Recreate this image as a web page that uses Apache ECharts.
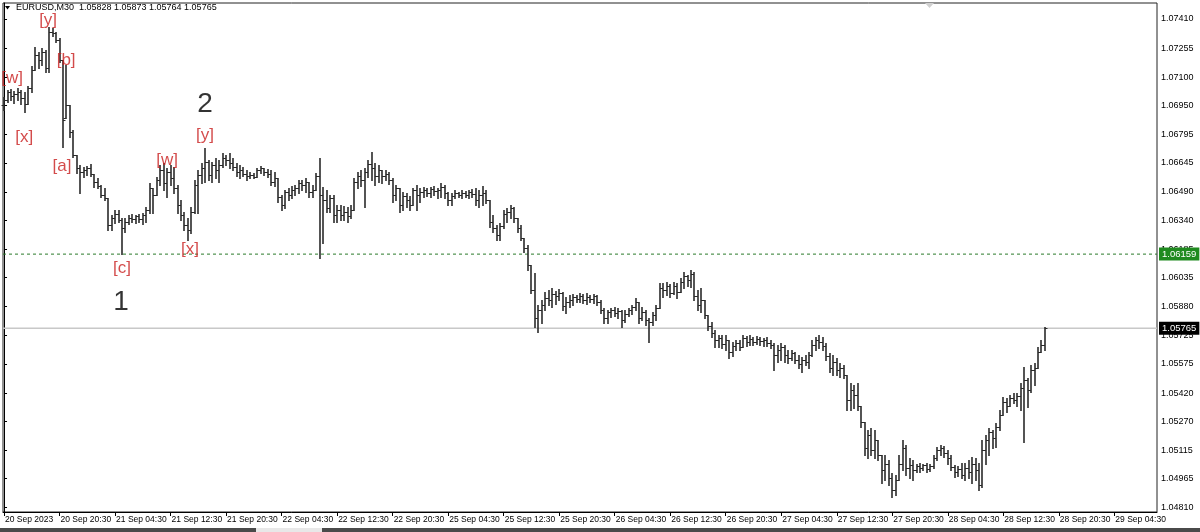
<!DOCTYPE html>
<html>
<head>
<meta charset="utf-8">
<script src="https://cdn.jsdelivr.net/npm/echarts@6/dist/echarts.min.js"></script>
<style>html,body{margin:0;padding:0;background:#fff}#c{width:1200px;height:532px}</style>
</head>
<body>
<div id="c"></div>
<script>
// ---- data (EURUSD M30) ----
const headerText = 'EURUSD,M30  1.05828 1.05873 1.05764 1.05765';
const timeTickLabels = ['20 Sep 2023','20 Sep 20:30','21 Sep 04:30','21 Sep 12:30','21 Sep 20:30','22 Sep 04:30','22 Sep 12:30','22 Sep 20:30','25 Sep 04:30','25 Sep 12:30','25 Sep 20:30','26 Sep 04:30','26 Sep 12:30','26 Sep 20:30','27 Sep 04:30','27 Sep 12:30','27 Sep 20:30','28 Sep 04:30','28 Sep 12:30','28 Sep 20:30','29 Sep 04:30'];
const barsPerTimeTick = 16;
const priceTickLabels = ['1.07410','1.07255','1.07100','1.06950','1.06795','1.06645','1.06490','1.06340','1.06185','1.06035','1.05880','1.05725','1.05575','1.05420','1.05270','1.05115','1.04965','1.04810'];
const supportLevel = 1.06159;
const bidLevel = 1.05765;
// [open, high, low, close]
const ohlc = [
[1.06952,1.06995,1.06926,1.06979],[1.06979,1.07032,1.06968,1.07021],[1.07021,1.07038,1.06979,1.07000],[1.07000,1.07027,1.06963,1.07011],
[1.07011,1.07043,1.06979,1.07021],[1.07021,1.07032,1.06958,1.06989],[1.06989,1.07021,1.06915,1.06958],[1.06958,1.07054,1.06958,1.07043],
[1.07043,1.07160,1.07021,1.07139],[1.07139,1.07261,1.07139,1.07218],[1.07218,1.07234,1.07149,1.07192],[1.07192,1.07255,1.07165,1.07234],
[1.07234,1.07245,1.07128,1.07149],[1.07149,1.07368,1.07128,1.07340],[1.07340,1.07362,1.07319,1.07335],[1.07335,1.07340,1.07287,1.07298],
[1.07298,1.07308,1.07181,1.07192],[1.07192,1.07192,1.06730,1.06873],[1.06883,1.07165,1.06883,1.06952],[1.06952,1.06952,1.06783,1.06809],
[1.06809,1.06820,1.06676,1.06686],[1.06686,1.06686,1.06591,1.06617],[1.06617,1.06633,1.06485,1.06596],[1.06596,1.06623,1.06570,1.06607],
[1.06607,1.06628,1.06580,1.06617],[1.06617,1.06639,1.06575,1.06586],[1.06586,1.06586,1.06517,1.06543],[1.06543,1.06564,1.06511,1.06522],
[1.06522,1.06527,1.06464,1.06474],[1.06474,1.06511,1.06448,1.06458],[1.06458,1.06458,1.06288,1.06314],[1.06314,1.06368,1.06288,1.06352],
[1.06352,1.06395,1.06325,1.06374],[1.06374,1.06395,1.06330,1.06341],[1.06341,1.06352,1.06159,1.06298],[1.06298,1.06352,1.06277,1.06330],
[1.06330,1.06368,1.06320,1.06352],[1.06352,1.06374,1.06330,1.06347],[1.06347,1.06368,1.06325,1.06363],[1.06363,1.06374,1.06330,1.06347],
[1.06347,1.06379,1.06320,1.06368],[1.06368,1.06411,1.06330,1.06395],[1.06395,1.06538,1.06379,1.06511],[1.06511,1.06511,1.06379,1.06474],
[1.06474,1.06570,1.06474,1.06554],[1.06554,1.06633,1.06527,1.06607],[1.06607,1.06644,1.06501,1.06538],[1.06538,1.06617,1.06464,1.06596],
[1.06596,1.06633,1.06527,1.06564],[1.06564,1.06623,1.06485,1.06511],[1.06511,1.06527,1.06379,1.06421],[1.06421,1.06448,1.06341,1.06368],
[1.06368,1.06384,1.06288,1.06314],[1.06314,1.06352,1.06235,1.06288],[1.06288,1.06411,1.06272,1.06384],[1.06384,1.06554,1.06379,1.06527],
[1.06527,1.06607,1.06379,1.06580],[1.06580,1.06644,1.06538,1.06617],[1.06617,1.06724,1.06543,1.06649],[1.06649,1.06660,1.06554,1.06580],
[1.06580,1.06649,1.06543,1.06633],[1.06633,1.06670,1.06564,1.06607],[1.06607,1.06660,1.06543,1.06633],[1.06633,1.06697,1.06623,1.06670],
[1.06670,1.06686,1.06633,1.06660],[1.06660,1.06697,1.06617,1.06644],[1.06644,1.06670,1.06607,1.06623],[1.06623,1.06644,1.06575,1.06596],
[1.06596,1.06633,1.06564,1.06607],[1.06607,1.06623,1.06575,1.06586],[1.06586,1.06607,1.06554,1.06575],[1.06575,1.06596,1.06564,1.06580],
[1.06580,1.06591,1.06564,1.06570],[1.06570,1.06617,1.06570,1.06607],[1.06607,1.06628,1.06591,1.06617],[1.06617,1.06617,1.06580,1.06596],
[1.06596,1.06612,1.06570,1.06586],[1.06586,1.06607,1.06527,1.06543],[1.06543,1.06596,1.06522,1.06564],[1.06564,1.06564,1.06437,1.06464],
[1.06464,1.06474,1.06395,1.06421],[1.06421,1.06501,1.06405,1.06490],[1.06490,1.06511,1.06448,1.06474],[1.06474,1.06522,1.06458,1.06501],
[1.06501,1.06527,1.06474,1.06511],[1.06511,1.06554,1.06485,1.06538],[1.06538,1.06554,1.06501,1.06527],[1.06527,1.06564,1.06490,1.06543],
[1.06543,1.06543,1.06464,1.06490],[1.06490,1.06527,1.06464,1.06501],[1.06501,1.06591,1.06501,1.06575],[1.06575,1.06670,1.06139,1.06474],
[1.06474,1.06517,1.06219,1.06448],[1.06448,1.06501,1.06384,1.06405],[1.06405,1.06474,1.06384,1.06458],[1.06458,1.06474,1.06330,1.06368],
[1.06368,1.06421,1.06330,1.06395],[1.06395,1.06421,1.06341,1.06368],[1.06368,1.06416,1.06341,1.06384],[1.06384,1.06411,1.06330,1.06363],
[1.06363,1.06421,1.06352,1.06395],[1.06395,1.06564,1.06395,1.06543],[1.06543,1.06596,1.06511,1.06575],[1.06575,1.06607,1.06522,1.06554],
[1.06554,1.06617,1.06411,1.06596],[1.06596,1.06660,1.06570,1.06639],[1.06639,1.06702,1.06554,1.06617],[1.06617,1.06644,1.06527,1.06575],
[1.06575,1.06633,1.06543,1.06607],[1.06607,1.06607,1.06538,1.06575],[1.06575,1.06607,1.06554,1.06586],[1.06586,1.06596,1.06533,1.06554],
[1.06554,1.06564,1.06437,1.06474],[1.06474,1.06527,1.06448,1.06511],[1.06511,1.06511,1.06384,1.06421],[1.06421,1.06490,1.06395,1.06469],
[1.06469,1.06485,1.06411,1.06448],[1.06448,1.06469,1.06395,1.06421],[1.06421,1.06511,1.06421,1.06501],[1.06501,1.06527,1.06395,1.06474],
[1.06474,1.06511,1.06437,1.06490],[1.06490,1.06517,1.06464,1.06501],[1.06501,1.06511,1.06469,1.06485],[1.06485,1.06517,1.06464,1.06506],
[1.06506,1.06522,1.06474,1.06496],[1.06496,1.06511,1.06458,1.06501],[1.06501,1.06538,1.06464,1.06517],[1.06517,1.06527,1.06458,1.06485],
[1.06485,1.06490,1.06421,1.06448],[1.06448,1.06485,1.06421,1.06469],[1.06469,1.06501,1.06458,1.06485],[1.06485,1.06490,1.06464,1.06474],
[1.06474,1.06501,1.06458,1.06485],[1.06485,1.06496,1.06464,1.06474],[1.06474,1.06501,1.06458,1.06490],[1.06490,1.06506,1.06464,1.06480],
[1.06480,1.06511,1.06421,1.06448],[1.06448,1.06501,1.06411,1.06474],[1.06474,1.06522,1.06421,1.06485],[1.06485,1.06501,1.06432,1.06448],
[1.06448,1.06448,1.06304,1.06330],[1.06330,1.06368,1.06277,1.06298],[1.06298,1.06314,1.06235,1.06261],[1.06261,1.06325,1.06235,1.06309],
[1.06309,1.06395,1.06298,1.06374],[1.06374,1.06405,1.06330,1.06384],[1.06384,1.06421,1.06352,1.06405],[1.06405,1.06411,1.06330,1.06352],
[1.06352,1.06352,1.06277,1.06298],[1.06298,1.06314,1.06235,1.06245],[1.06245,1.06245,1.06171,1.06192],[1.06192,1.06208,1.06075,1.06102],
[1.06102,1.06102,1.05953,1.05969],[1.05969,1.06059,1.05772,1.05820],[1.05820,1.05890,1.05745,1.05863],[1.05863,1.05916,1.05794,1.05890],
[1.05890,1.05958,1.05863,1.05927],[1.05927,1.05969,1.05890,1.05916],[1.05916,1.05980,1.05879,1.05948],[1.05948,1.05964,1.05895,1.05937],
[1.05937,1.05975,1.05916,1.05953],[1.05953,1.05958,1.05863,1.05884],[1.05884,1.05932,1.05847,1.05905],[1.05905,1.05943,1.05879,1.05916],
[1.05916,1.05948,1.05890,1.05932],[1.05932,1.05943,1.05905,1.05921],[1.05921,1.05953,1.05905,1.05937],[1.05937,1.05948,1.05900,1.05916],
[1.05916,1.05953,1.05895,1.05932],[1.05932,1.05943,1.05905,1.05921],[1.05921,1.05948,1.05900,1.05937],[1.05937,1.05943,1.05890,1.05905],
[1.05905,1.05916,1.05847,1.05863],[1.05863,1.05873,1.05794,1.05820],[1.05820,1.05863,1.05794,1.05852],[1.05852,1.05873,1.05826,1.05863],
[1.05863,1.05879,1.05831,1.05847],[1.05847,1.05873,1.05820,1.05857],[1.05857,1.05863,1.05772,1.05810],[1.05810,1.05863,1.05799,1.05841],
[1.05841,1.05873,1.05831,1.05863],[1.05863,1.05890,1.05841,1.05879],[1.05879,1.05927,1.05863,1.05905],[1.05905,1.05905,1.05794,1.05820],
[1.05820,1.05879,1.05810,1.05852],[1.05852,1.05863,1.05783,1.05810],[1.05810,1.05820,1.05693,1.05799],[1.05799,1.05852,1.05783,1.05836],
[1.05836,1.05890,1.05810,1.05873],[1.05873,1.06006,1.05873,1.05980],[1.05980,1.06006,1.05932,1.05969],[1.05969,1.06011,1.05943,1.05990],
[1.05990,1.06001,1.05932,1.05953],[1.05953,1.06011,1.05948,1.05990],[1.05990,1.06006,1.05927,1.05958],[1.05958,1.06033,1.05958,1.06011],
[1.06011,1.06065,1.05980,1.06043],[1.06043,1.06049,1.05990,1.06022],[1.06022,1.06075,1.05985,1.06054],[1.06054,1.06065,1.05916,1.05937],
[1.05937,1.05969,1.05863,1.05890],[1.05890,1.05980,1.05852,1.05916],[1.05916,1.05916,1.05820,1.05836],[1.05836,1.05836,1.05756,1.05778],
[1.05778,1.05799,1.05719,1.05740],[1.05740,1.05756,1.05666,1.05703],[1.05703,1.05730,1.05666,1.05714],[1.05714,1.05730,1.05661,1.05682],
[1.05682,1.05730,1.05650,1.05703],[1.05703,1.05703,1.05607,1.05639],[1.05639,1.05693,1.05618,1.05671],[1.05671,1.05703,1.05650,1.05687],
[1.05687,1.05703,1.05650,1.05666],[1.05666,1.05730,1.05666,1.05714],[1.05714,1.05724,1.05671,1.05693],[1.05693,1.05730,1.05677,1.05709],
[1.05709,1.05719,1.05677,1.05693],[1.05693,1.05724,1.05682,1.05709],[1.05709,1.05719,1.05677,1.05698],[1.05698,1.05714,1.05671,1.05703],
[1.05703,1.05719,1.05671,1.05687],[1.05687,1.05703,1.05661,1.05677],[1.05677,1.05687,1.05544,1.05623],[1.05623,1.05677,1.05586,1.05650],
[1.05650,1.05687,1.05597,1.05666],[1.05666,1.05677,1.05586,1.05623],[1.05623,1.05650,1.05581,1.05607],[1.05607,1.05650,1.05597,1.05634],
[1.05634,1.05639,1.05581,1.05597],[1.05597,1.05623,1.05554,1.05576],[1.05576,1.05613,1.05533,1.05597],[1.05597,1.05623,1.05570,1.05586],
[1.05586,1.05639,1.05554,1.05623],[1.05623,1.05703,1.05618,1.05677],[1.05677,1.05719,1.05650,1.05703],[1.05703,1.05730,1.05661,1.05693],
[1.05693,1.05719,1.05650,1.05671],[1.05671,1.05687,1.05597,1.05618],[1.05618,1.05634,1.05533,1.05554],[1.05554,1.05623,1.05517,1.05586],
[1.05586,1.05607,1.05517,1.05544],[1.05544,1.05581,1.05507,1.05554],[1.05554,1.05570,1.05501,1.05517],[1.05517,1.05517,1.05331,1.05384],
[1.05384,1.05475,1.05331,1.05437],[1.05437,1.05464,1.05342,1.05411],[1.05411,1.05475,1.05331,1.05352],[1.05352,1.05352,1.05241,1.05267],
[1.05267,1.05267,1.05091,1.05129],[1.05129,1.05225,1.05075,1.05198],[1.05198,1.05235,1.05091,1.05118],[1.05118,1.05225,1.05075,1.05172],
[1.05172,1.05172,1.05065,1.05091],[1.05091,1.05091,1.04943,1.05012],[1.05012,1.05091,1.04959,1.05044],[1.05044,1.05065,1.04932,1.04970],
[1.04970,1.04996,1.04869,1.04906],[1.04906,1.04985,1.04879,1.04959],[1.04959,1.05091,1.04959,1.05044],[1.05044,1.05172,1.05012,1.05129],
[1.05129,1.05145,1.04985,1.05023],[1.05023,1.05075,1.04970,1.05039],[1.05039,1.05065,1.04959,1.05012],[1.05012,1.05044,1.05001,1.05033],
[1.05033,1.05049,1.05001,1.05023],[1.05023,1.05044,1.05012,1.05039],[1.05039,1.05049,1.05001,1.05017],[1.05017,1.05044,1.05007,1.05033],
[1.05033,1.05091,1.05023,1.05075],[1.05075,1.05134,1.05065,1.05118],[1.05118,1.05145,1.05091,1.05129],[1.05129,1.05140,1.05081,1.05102],
[1.05102,1.05118,1.05044,1.05075],[1.05075,1.05091,1.05012,1.05028],[1.05028,1.05039,1.04975,1.05001],[1.05001,1.05033,1.04980,1.05017],
[1.05017,1.05049,1.04970,1.04985],[1.04985,1.05049,1.04959,1.05023],[1.05023,1.05065,1.04970,1.05001],[1.05001,1.05081,1.04943,1.05044],
[1.05044,1.05075,1.04959,1.05012],[1.05012,1.05049,1.04906,1.04932],[1.04932,1.05172,1.04922,1.05118],[1.05118,1.05198,1.05044,1.05172],
[1.05172,1.05235,1.05091,1.05214],[1.05214,1.05225,1.05129,1.05182],[1.05182,1.05262,1.05134,1.05241],[1.05241,1.05331,1.05225,1.05305],
[1.05305,1.05400,1.05305,1.05373],[1.05373,1.05395,1.05320,1.05352],[1.05352,1.05411,1.05352,1.05395],[1.05395,1.05421,1.05368,1.05384],
[1.05384,1.05421,1.05352,1.05405],[1.05405,1.05475,1.05331,1.05448],[1.05448,1.05560,1.05161,1.05491],[1.05491,1.05501,1.05347,1.05437],
[1.05437,1.05570,1.05427,1.05544],[1.05544,1.05581,1.05464,1.05554],[1.05554,1.05666,1.05554,1.05639],[1.05639,1.05703,1.05639,1.05677],
[1.05677,1.05772,1.05650,1.05765]
];
// Elliott-wave annotations: [bar index, price, text, kind]
const waveLabels = [
  [2.3, 1.07096, '[w]', 'minor'],
  [5.8, 1.06783, '[x]', 'minor'],
  [12.7, 1.07405, '[y]', 'minor'],
  [16.7, 1.06628, '[a]', 'minor'],
  [17.9, 1.07192, '[b]', 'minor'],
  [34.0, 1.06086, '[c]', 'minor'],
  [47.0, 1.06660, '[w]', 'minor'],
  [53.6, 1.06182, '[x]', 'minor'],
  [57.9, 1.06793, '[y]', 'minor'],
  [33.7, 1.05905, '1', 'major'],
  [57.9, 1.06958, '2', 'major']
];
const totalSlots = 332.6;

// ---- chart ----
const chart = echarts.init(document.getElementById('c'), null, {renderer: 'canvas'});
const barData = ohlc.map((r, i) => [i, r[0], r[1], r[2], r[3]]);
const FONT = 'Liberation Sans';
const xMin = -0.3, xMax = totalSlots - 0.3;

function renderBar(params, api) {
  const i = api.value(0);
  const pO = api.coord([i, api.value(1)]);
  const pH = api.coord([i, api.value(2)]);
  const pL = api.coord([i, api.value(3)]);
  const pC = api.coord([i, api.value(4)]);
  const x = Math.round(pH[0]);
  const yO = Math.round(pO[1]) + 0.5, yC = Math.round(pC[1]) + 0.5;
  const st = {stroke: '#2a2a2a', lineWidth: 1.6};
  const tk = {stroke: '#2a2a2a', lineWidth: 1};
  return {
    type: 'group',
    children: [
      {type: 'line', shape: {x1: x, y1: Math.round(pH[1]), x2: x, y2: Math.round(pL[1]) + 1}, style: st},
      {type: 'line', shape: {x1: x - 2.5, y1: yO, x2: x, y2: yO}, style: tk},
      {type: 'line', shape: {x1: x, y1: yC, x2: x + 2.5, y2: yC}, style: tk}
    ]
  };
}

function levelSeries(level, lineStyle, boxColor) {
  return {
    type: 'line', data: [[xMin, level], [xMax, level]], symbol: 'none', silent: true, z: 1,
    lineStyle: lineStyle,
    endLabel: {
      show: true, distance: 2, formatter: () => level.toFixed(5),
      backgroundColor: boxColor, color: '#fff', fontFamily: FONT, fontSize: 9.5, padding: [2, 3, 1, 3]
    }
  };
}

const priceTickValues = priceTickLabels.map(Number);
const timeTickValues = timeTickLabels.map((_, k) => k * barsPerTimeTick);

chart.setOption({
  animation: false,
  backgroundColor: '#ffffff',
  grid: {left: 3, right: 43, top: 3, bottom: 20, show: true, borderColor: '#222', borderWidth: 1, backgroundColor: '#fff'},
  xAxis: {
    type: 'value', min: xMin, max: xMax,
    axisLine: {show: true, lineStyle: {color: '#000'}},
    axisTick: {show: true, length: 4, lineStyle: {color: '#000'}, customValues: timeTickValues},
    axisLabel: {
      show: true, customValues: timeTickValues, align: 'left', margin: 3, padding: [0, 0, 0, 1],
      fontFamily: FONT, fontSize: 8.5, color: '#000',
      formatter: v => timeTickLabels[Math.round(v / barsPerTimeTick)] || ''
    },
    splitLine: {show: false}
  },
  yAxis: {
    type: 'value', position: 'right', min: 1.04787, max: 1.07495, scale: true,
    axisLine: {show: true, lineStyle: {color: '#000'}},
    axisTick: {show: true, length: 3, lineStyle: {color: '#000'}, customValues: priceTickValues},
    axisLabel: {
      show: true, customValues: priceTickValues, margin: 4,
      fontFamily: FONT, fontSize: 9, color: '#000',
      formatter: v => v.toFixed(5)
    },
    splitLine: {show: false}
  },
  graphic: [
    {type: 'polygon', shape: {points: [[5, 6], [10, 6], [7.5, 9.5]]}, style: {fill: '#000'}},
    {type: 'text', left: 16, top: 3, style: {text: headerText, font: '9px "Liberation Sans"', fill: '#000'}},
    {type: 'polygon', shape: {points: [[925, 3], [934, 3], [929.5, 8]]}, style: {fill: '#d0d0d0'}},
    {type: 'rect', shape: {x: 0, y: 528, width: 1200, height: 4}, style: {fill: '#4a4a4a'}},
    {type: 'rect', shape: {x: 256, y: 528, width: 66, height: 4}, style: {fill: '#e8e8e8'}}
  ],
  series: [
    levelSeries(supportLevel, {color: '#2a7a2a', type: [3, 3], width: 1}, '#1f8a1f'),
    levelSeries(bidLevel, {color: '#c8c8c8', type: 'solid', width: 1.5}, '#000'),
    {
      type: 'custom', renderItem: renderBar, data: barData,
      encode: {x: 0, y: [1, 2, 3, 4]}, z: 3
    },
    {
      type: 'scatter', symbolSize: 0, silent: true, z: 4,
      data: waveLabels.map(w => ({
        value: [w[0], w[1]],
        label: {
          show: true, position: 'inside', formatter: w[2],
          color: w[3] === 'major' ? '#000' : '#c81e1e',
          fontFamily: FONT, fontSize: w[3] === 'major' ? 28 : 17
        }
      }))
    }
  ]
});
</script>
</body>
</html>
